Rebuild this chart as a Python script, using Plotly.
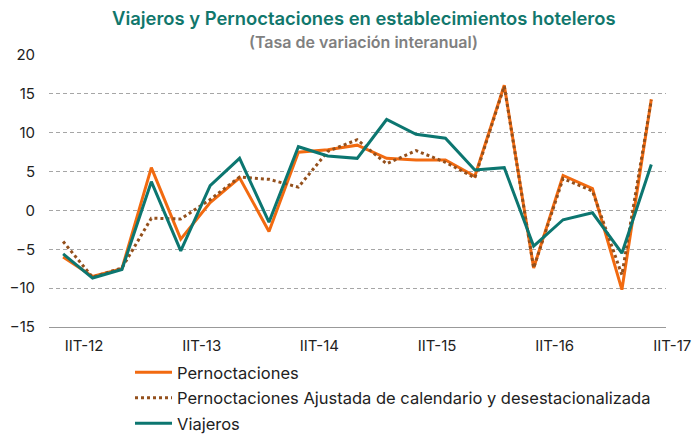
import plotly.graph_objects as go

quarters = ["IIT-12", "IIIT-12", "IVT-12", "IT-13",
            "IIT-13", "IIIT-13", "IVT-13", "IT-14",
            "IIT-14", "IIIT-14", "IVT-14", "IT-15",
            "IIT-15", "IIIT-15", "IVT-15", "IT-16",
            "IIT-16", "IIIT-16", "IVT-16", "IT-17",
            "IIT-17"]
tick_labels = ["IIT-12", "IIT-13", "IIT-14", "IIT-15", "IIT-16", "IIT-17"]

pernoctaciones = [-6.0, -8.5, -7.5, 5.5, -3.7, 1.0, 4.2, -2.7, 7.5, 7.8, 8.4,
                  6.7, 6.5, 6.5, 4.4, 16.1, -7.4, 4.5, 2.8, -10.2, 14.3]
pernoct_ajustada = [-4.0, -8.6, -7.4, -1.0, -1.1, 1.4, 4.3, 4.0, 3.0, 7.6, 9.1,
                    6.0, 7.7, 6.2, 4.2, 16.0, -7.4, 4.1, 2.5, -8.3, 14.2]
viajeros = [-5.6, -8.7, -7.6, 3.7, -5.2, 3.2, 6.7, -1.5, 8.2, 7.0, 6.7,
            11.7, 9.8, 9.3, 5.2, 5.5, -4.6, -1.2, -0.3, -5.5, 5.9]

FONT = "Inter, Liberation Sans, Arial, sans-serif"
x_idx = list(range(len(quarters)))
tick_idx = [quarters.index(t) for t in tick_labels]

# page geometry (pixels)
W, H = 694, 436
ML, MR, MT, MB = 49, 28, 55, 0
PLOT_BOTTOM = 327
paper_h = H - MT - MB
paper_w = W - ML - MR


def py(pix):
    return (H - MB - pix) / paper_h


def px(pix):
    return (pix - ML) / paper_w


fig = go.Figure()
fig.add_trace(go.Scatter(x=x_idx, y=pernoctaciones, mode="lines", name="Pernoctaciones",
                         legendgroup="a", line=dict(color="#F26A10", width=3)))
fig.add_trace(go.Scatter(x=x_idx, y=pernoct_ajustada, mode="lines",
                         name="Pernoctaciones Ajustada de calendario y desestacionalizada",
                         legendgroup="b", line=dict(color="#94501C", width=3, dash="3px,3px")))
fig.add_trace(go.Scatter(x=x_idx, y=viajeros, mode="lines", name="Viajeros",
                         legendgroup="c", line=dict(color="#0C7670", width=3)))

fig.update_layout(
    width=W, height=H,
    margin=dict(l=ML, r=MR, t=MT, b=MB, autoexpand=False),
    paper_bgcolor="white", plot_bgcolor="white",
    font=dict(family=FONT, size=15, color="#222222"),
    annotations=[
        dict(text="Viajeros y Pernoctaciones en establecimientos hoteleros",
             xref="paper", yref="paper", x=px(364), y=py(18),
             xanchor="center", yanchor="middle", showarrow=False,
             font=dict(family=FONT, size=18.4, color="#11776C", weight=600)),
        dict(text="(Tasa de variación interanual)", xref="paper", yref="paper",
             x=px(363), y=py(42), xanchor="center", yanchor="middle",
             showarrow=False, font=dict(family=FONT, size=16, color="#808080", weight=600)),
    ],
    showlegend=True,
    legend=dict(orientation="v", x=px(130), xanchor="left", y=py(355), yanchor="top",
                font=dict(family=FONT, size=16.5, color="#222222"), itemwidth=37,
                bgcolor="rgba(0,0,0,0)", tracegroupgap=1),
)
fig.update_xaxes(
    range=[-0.48, 20.5], tickmode="array", tickvals=tick_idx, ticktext=tick_labels,
    showgrid=False, zeroline=False, showline=True, linecolor="#999999", linewidth=1,
    ticks="outside", ticklen=5, tickcolor="rgba(0,0,0,0)", ticklabelshift=21,
    ticklabeloverflow="allow",
    tickfont=dict(family=FONT, size=15, color="#222222"), automargin=False,
)
fig.update_yaxes(
    domain=[py(PLOT_BOTTOM), 1],
    range=[-15, 20], dtick=5, tick0=0, showgrid=True, gridcolor="#A6A6A6",
    griddash="4px,3px", gridwidth=1, zeroline=False, showline=False,
    ticks="outside", ticklen=10, tickcolor="rgba(0,0,0,0)",
    tickfont=dict(family=FONT, size=15, color="#222222"), automargin=False,
)

fig.write_html("out.html", config={"displayModeBar": False},
               post_script="document.body.style.margin='0px';")
